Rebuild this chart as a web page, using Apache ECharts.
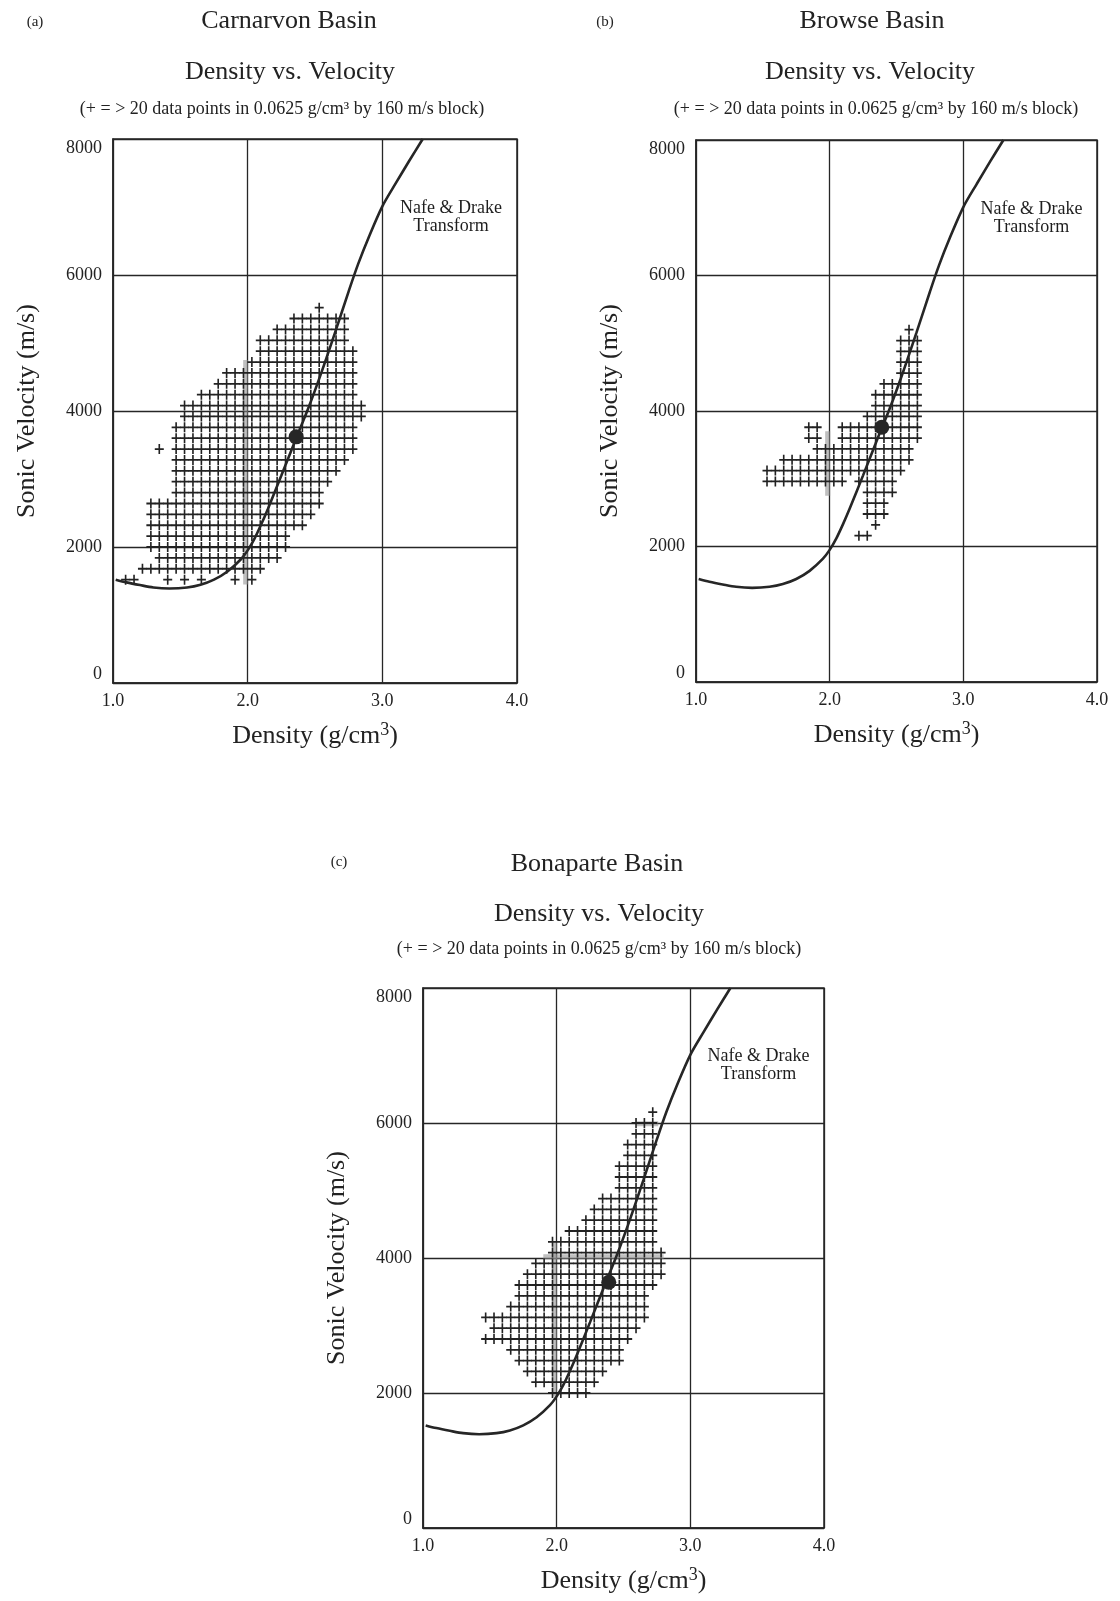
<!DOCTYPE html>
<html>
<head>
<meta charset="utf-8">
<script src="https://cdn.jsdelivr.net/npm/echarts@6/dist/echarts.min.js"></script>
<style>
  html, body { margin: 0; padding: 0; background: #fff; }
  #main { width: 1120px; height: 1601px; }
</style>
</head>
<body>
<div id="main"></div>
<script>
const FONT = '"Liberation Serif", "Times New Roman", serif';
const STEP_D = 0.0625; // block width, g/cm3

// Nafe & Drake transform (density, velocity)
const ndDensity  = [1.02, 1.10, 1.20, 1.30, 1.42, 1.55, 1.65, 1.75, 1.85, 1.95, 2.00, 2.05, 2.10, 2.15, 2.25, 2.36, 2.45, 2.55, 2.65, 2.75, 2.82, 2.90, 3.00, 3.10, 3.20, 3.30];
const ndVelocity = [1520, 1480, 1440, 1405, 1390, 1405, 1445, 1520, 1640, 1820, 1950, 2120, 2330, 2560, 3050, 3600, 4040, 4580, 5160, 5760, 6160, 6560, 7010, 7350, 7680, 8000];
const ndLabel = [3.51, 6850];

// (a) Carnarvon: one row of "+" blocks per entry (velocity, first density, last density)
const velA = [5520, 5360, 5200, 5040, 4880, 4720, 4560, 4400, 4240, 4080, 3920, 3760, 3600, 3440, 3440, 3280, 3120, 2960, 2800, 2640, 2480, 2320, 2160, 2000, 1840, 1680, 1520, 1520, 1520, 1520, 1520, 1520];
const loA  = [2.53, 2.33, 2.19, 2.07, 2.07, 2.04, 1.83, 1.77, 1.63, 1.56, 1.50, 1.46, 1.44, 1.44, 1.34, 1.44, 1.44, 1.44, 1.44, 1.31, 1.31, 1.31, 1.31, 1.31, 1.34, 1.21, 1.10, 1.41, 1.53, 1.65, 1.92, 2.04];
const hiA  = [2.53, 2.69, 2.69, 2.74, 2.75, 2.75, 2.81, 2.81, 2.81, 2.82, 2.87, 2.81, 2.77, 2.76, 1.34, 2.70, 2.64, 2.59, 2.55, 2.51, 2.46, 2.38, 2.31, 2.25, 2.19, 2.07, 1.16, 1.41, 1.53, 1.65, 1.92, 2.04];
const dotA = [2.36, 3620];

// (b) Browse
const velB = [5200, 5040, 4880, 4720, 4560, 4400, 4240, 4080, 3920, 3760, 3760, 3600, 3600, 3440, 3280, 3120, 2960, 2960, 2800, 2640, 2480, 2320, 2160];
const loB  = [2.58, 2.56, 2.50, 2.50, 2.50, 2.38, 2.33, 2.33, 2.26, 1.84, 2.09, 1.84, 2.07, 1.89, 1.64, 1.52, 1.52, 2.20, 2.25, 2.25, 2.26, 2.34, 2.22];
const hiB  = [2.58, 2.66, 2.66, 2.66, 2.66, 2.66, 2.66, 2.68, 2.68, 1.92, 2.66, 1.92, 2.66, 2.61, 2.61, 2.54, 2.10, 2.49, 2.48, 2.43, 2.41, 2.34, 2.29];
const dotB = [2.39, 3760];

// (c) Bonaparte
const velC = [6160, 6000, 5840, 5680, 5520, 5360, 5200, 5040, 4880, 4720, 4560, 4400, 4240, 4080, 3920, 3760, 3600, 3440, 3280, 3120, 2960, 2800, 2640, 2480, 2320, 2160, 2000];
const loC  = [2.70, 2.62, 2.62, 2.56, 2.56, 2.44, 2.44, 2.44, 2.32, 2.25, 2.20, 2.07, 1.96, 1.95, 1.87, 1.76, 1.70, 1.70, 1.63, 1.44, 1.50, 1.44, 1.63, 1.70, 1.75, 1.85, 1.95];
const hiC  = [2.70, 2.72, 2.72, 2.72, 2.72, 2.72, 2.72, 2.72, 2.72, 2.72, 2.72, 2.72, 2.72, 2.77, 2.79, 2.77, 2.72, 2.67, 2.66, 2.66, 2.61, 2.55, 2.49, 2.49, 2.36, 2.30, 2.20];
const dotC = [2.39, 3640];

// grey smudges where blocks pile up
const stripesA = [[[1.985, 1450], [1.985, 4750]]];
const stripesB = [[[1.985, 2750], [1.985, 3700]]];
const stripesC = [[[1.985, 1950], [1.985, 4250]], [[1.90, 4020], [2.80, 4020]], [[2.60, 5990], [2.76, 5990]]];

const PLUS = 'path://M8.2,0H11.8V8.2H20V11.8H11.8V20H8.2V11.8H0V8.2H8.2Z';
const SUB = '(+ = > 20 data points in 0.0625 g/cm³ by 160 m/s block)';

function cells(vel, lo, hi) {
  const out = [];
  vel.forEach((v, i) => {
    const k0 = Math.round((lo[i] - 1) / STEP_D - 0.5);
    const k1 = Math.round((hi[i] - 1) / STEP_D - 0.5);
    for (let k = k0; k <= k1; k++) out.push([1 + (k + 0.5) * STEP_D, v]);
  });
  return out;
}

const panels = [
  { grid: { left: 113, top: 139, width: 404, height: 544 }, pts: cells(velA, loA, hiA), dot: dotA, stripes: stripesA },
  { grid: { left: 696, top: 140, width: 401, height: 542 }, pts: cells(velB, loB, hiB), dot: dotB, stripes: stripesB },
  { grid: { left: 423, top: 988, width: 401, height: 540 }, pts: cells(velC, loC, hiC), dot: dotC, stripes: stripesC }
];

const ink = '#262626';
const curve = ndDensity.map((d, j) => [d, ndVelocity[j]]);

let grids = [], xAxes = [], yAxes = [], series = [];
panels.forEach((p, i) => {
  grids.push(Object.assign({ show: true, borderColor: ink, borderWidth: 1.5, containLabel: false }, p.grid));
  xAxes.push({
    gridIndex: i, type: 'value', min: 1, max: 4, interval: 1,
    axisLine: { show: true, lineStyle: { color: ink, width: 1.5 } },
    axisTick: { show: false },
    splitLine: { show: true, lineStyle: { color: ink, width: 1.3 } },
    axisLabel: { formatter: v => v.toFixed(1), fontFamily: FONT, fontSize: 18, color: '#222', margin: 9 },
    name: '{a|Density (g/cm}{s|3}{a|)}', nameLocation: 'middle', nameGap: 38,
    nameTextStyle: {
      color: '#222',
      rich: {
        a: { fontFamily: FONT, fontSize: 26, color: '#222' },
        s: { fontFamily: FONT, fontSize: 18, color: '#222', padding: [0, 0, 12, 0] }
      }
    }
  });
  yAxes.push({
    gridIndex: i, type: 'value', min: 0, max: 8000, interval: 2000,
    axisLine: { show: true, lineStyle: { color: ink, width: 1.5 } },
    axisTick: { show: false },
    splitLine: { show: true, lineStyle: { color: ink, width: 1.3 } },
    axisLabel: {
      formatter: v => String(v), fontFamily: FONT, fontSize: 18, color: '#222', margin: 11,
      verticalAlignMinLabel: 'bottom', verticalAlignMaxLabel: 'top'
    },
    name: 'Sonic Velocity (m/s)', nameLocation: 'middle', nameGap: 73, nameRotate: 90,
    nameTextStyle: { fontFamily: FONT, fontSize: 26, color: '#222' }
  });

  p.stripes.forEach(s => series.push({
    type: 'line', xAxisIndex: i, yAxisIndex: i, data: s, symbol: 'none', silent: true, z: 1,
    lineStyle: { color: 'rgba(140,140,140,0.55)', width: 5 }
  }));
  series.push({
    type: 'scatter', xAxisIndex: i, yAxisIndex: i, data: p.pts, symbol: PLUS, symbolSize: [9, 10],
    itemStyle: { color: '#222', opacity: 1 }, silent: true, z: 3
  });
  series.push({
    type: 'line', xAxisIndex: i, yAxisIndex: i, data: curve, smooth: 0.3,
    symbol: 'none', lineStyle: { color: ink, width: 2.6 }, z: 4, silent: true
  });
  series.push({
    type: 'scatter', xAxisIndex: i, yAxisIndex: i, data: [p.dot], symbolSize: 15,
    itemStyle: { color: ink, opacity: 1 }, z: 5, silent: true
  });
  series.push({
    type: 'scatter', xAxisIndex: i, yAxisIndex: i, data: [ndLabel], symbolSize: 1,
    itemStyle: { color: 'rgba(0,0,0,0)', opacity: 1 }, z: 6, silent: true,
    label: {
      show: true, position: 'inside', formatter: 'Nafe & Drake\nTransform', fontFamily: FONT,
      fontSize: 18, lineHeight: 18, color: '#1e1e1e', textBorderWidth: 0
    }
  });
});

// panel headings: [text, x, y, size]
const heads = [
  ['(a)', 35, 22, 15], ['Carnarvon Basin', 289, 21, 26], ['Density vs. Velocity', 290, 72, 26], [SUB, 282, 109, 18],
  ['(b)', 605, 22, 15], ['Browse Basin', 872, 21, 26], ['Density vs. Velocity', 870, 72, 26], [SUB, 876, 109, 18],
  ['(c)', 339, 862, 15], ['Bonaparte Basin', 597, 864, 26], ['Density vs. Velocity', 599, 914, 26], [SUB, 599, 949, 18]
];
const graphic = heads.map(h => ({
  type: 'text', x: h[1], y: h[2], silent: true,
  style: {
    text: h[0], font: h[3] + 'px ' + FONT, fill: '#222',
    align: 'center', verticalAlign: 'middle', textAlign: 'center', textVerticalAlign: 'middle'
  }
}));

const chart = echarts.init(document.getElementById('main'), null, { renderer: 'canvas' });
chart.setOption({
  animation: false,
  backgroundColor: '#fff',
  grid: grids,
  xAxis: xAxes,
  yAxis: yAxes,
  series: series,
  graphic: graphic
});
</script>
</body>
</html>
